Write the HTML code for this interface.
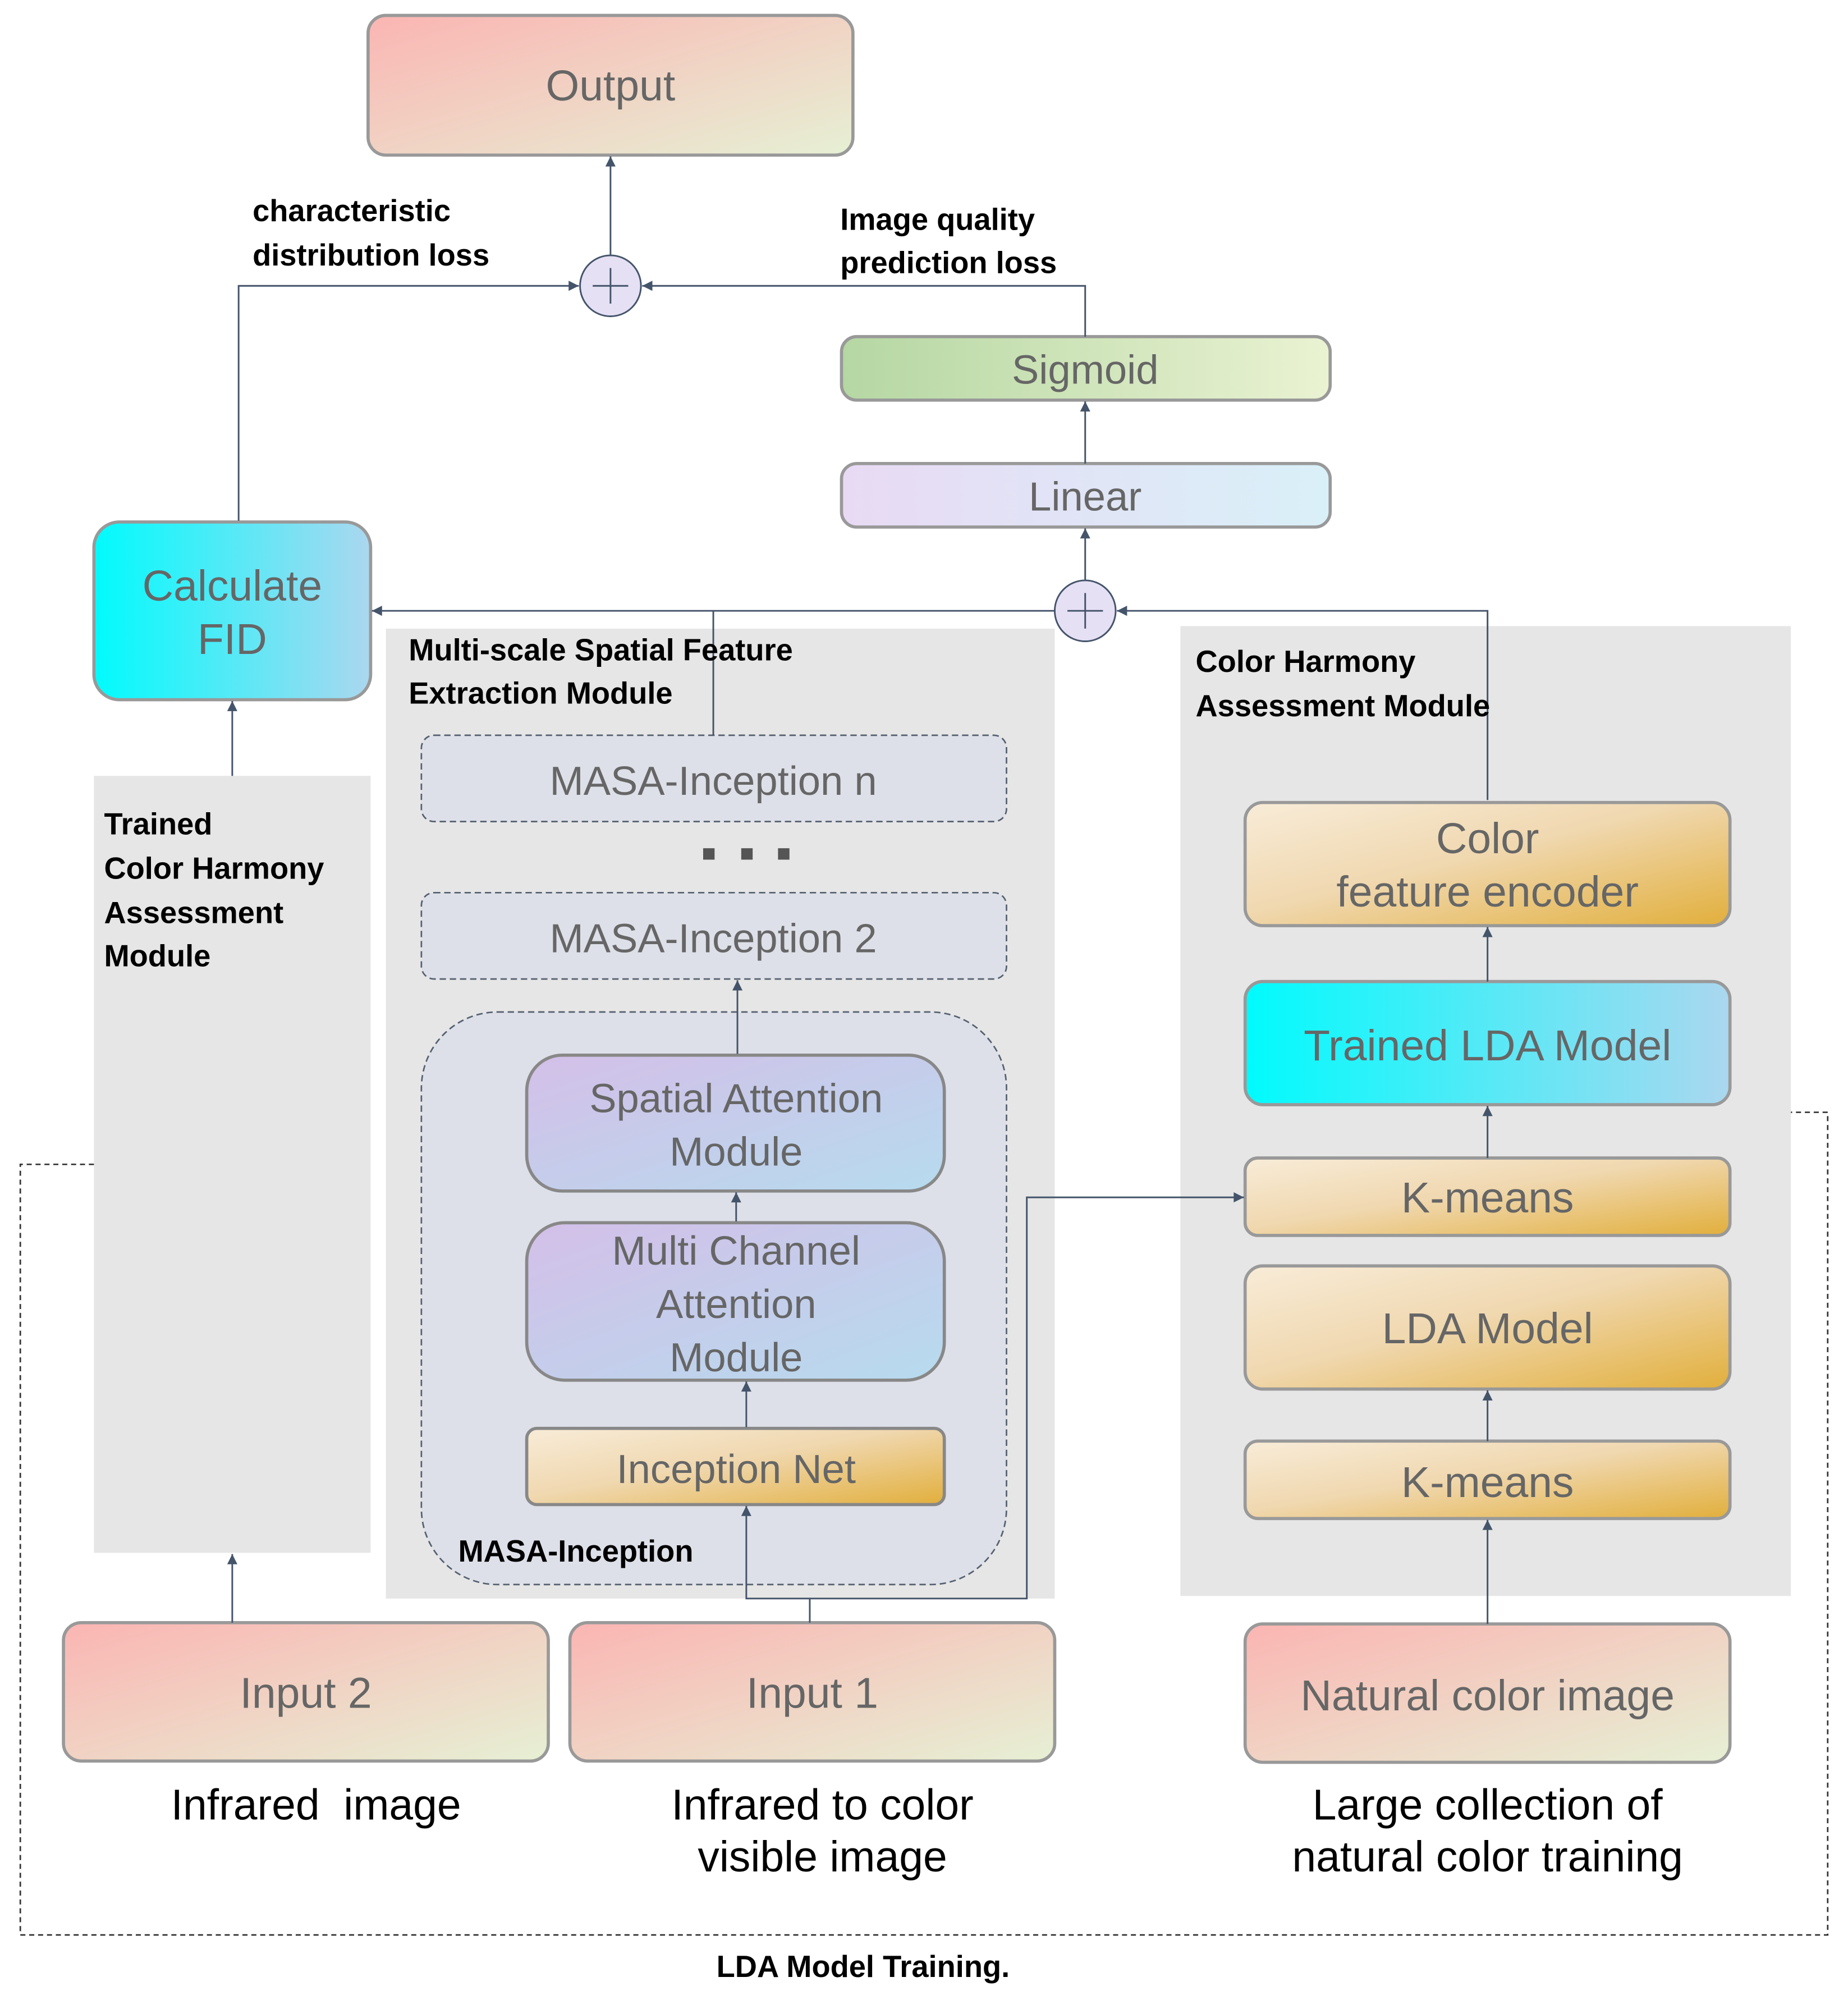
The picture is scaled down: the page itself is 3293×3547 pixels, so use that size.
<!DOCTYPE html>
<html><head><meta charset="utf-8"><style>html,body{margin:0;padding:0;background:#fff}svg{display:block}</style></head>
<body>
<svg xmlns="http://www.w3.org/2000/svg" width="3293" height="3547" viewBox="0 0 1456 1568" font-family="Liberation Sans, sans-serif">
<defs>
<linearGradient id="pk" x1="0" y1="0" x2="1" y2="1"><stop offset="0" stop-color="#fbb5b3"/><stop offset="1" stop-color="#e6f0d4"/></linearGradient>
<linearGradient id="gr" x1="0" y1="0" x2="1" y2="0"><stop offset="0" stop-color="#b5d7a3"/><stop offset="1" stop-color="#eaf2d2"/></linearGradient>
<linearGradient id="lv" x1="0" y1="0" x2="1" y2="0"><stop offset="0" stop-color="#e8daf4"/><stop offset="1" stop-color="#d9f0f8"/></linearGradient>
<linearGradient id="cy" x1="0" y1="0" x2="1" y2="0"><stop offset="0" stop-color="#00fbfd"/><stop offset="1" stop-color="#abd7ef"/></linearGradient>
<linearGradient id="pu" x1="0" y1="0" x2="1" y2="1"><stop offset="0" stop-color="#d4bfe8"/><stop offset="1" stop-color="#b6dbee"/></linearGradient>
<linearGradient id="or" x1="0" y1="0" x2="1" y2="1"><stop offset="0" stop-color="#f8ecd8"/><stop offset="0.45" stop-color="#f0d8b0"/><stop offset="1" stop-color="#e2af3c"/></linearGradient>
<marker id="a" markerWidth="10" markerHeight="10" refX="9" refY="5" orient="auto" markerUnits="userSpaceOnUse"><path d="M1,1 L9,5 L1,9 z" fill="#44546a"/></marker>
</defs>
<g fill="#e6e6e6">
<rect x="74" y="611" width="218" height="612"/>
<rect x="304" y="495" width="527" height="764"/>
<rect x="930" y="493" width="481" height="764"/>
</g>
<path d="M74,917 H16 V1524 H1440 V876 H1411" fill="none" stroke="#333" stroke-width="1.2" stroke-dasharray="4,3"/>
<g stroke="#999" stroke-width="2.5">
<rect x="290" y="12" width="382" height="110" rx="14" fill="url(#pk)"/>
<rect x="663" y="265" width="385" height="50" rx="12" fill="url(#gr)"/>
<rect x="663" y="365" width="385" height="50" rx="12" fill="url(#lv)"/>
<rect x="74" y="411" width="218" height="140" rx="20" fill="url(#cy)"/>
<rect x="50" y="1278" width="382" height="109" rx="14" fill="url(#pk)"/>
<rect x="449" y="1278" width="382" height="109" rx="14" fill="url(#pk)"/>
<rect x="981" y="1279" width="382" height="109" rx="14" fill="url(#pk)"/>
<rect x="981" y="632" width="382" height="97" rx="14" fill="url(#or)"/>
<rect x="981" y="773" width="382" height="97" rx="14" fill="url(#cy)"/>
<rect x="981" y="912" width="382" height="61" rx="10" fill="url(#or)"/>
<rect x="981" y="997" width="382" height="97" rx="14" fill="url(#or)"/>
<rect x="981" y="1135" width="382" height="61" rx="10" fill="url(#or)"/>
</g>
<g stroke="#556070" stroke-width="1.2" stroke-dasharray="5,3" fill="#dde0e8">
<rect x="332" y="579" width="461" height="68" rx="10"/>
<rect x="332" y="703" width="461" height="68" rx="10"/>
<rect x="332" y="797" width="461" height="451" rx="60"/>
</g>
<g stroke="#888" stroke-width="2.5">
<rect x="415" y="831" width="329" height="107" rx="28" fill="url(#pu)"/>
<rect x="415" y="963" width="329" height="124" rx="30" fill="url(#pu)"/>
<rect x="415" y="1125" width="329" height="60" rx="8" fill="url(#or)"/>
</g>
<g stroke="#44546a" stroke-width="1.3" fill="none" marker-end="url(#a)">
<path d="M481,201 V123"/>
<path d="M188,410 V225 H456"/>
<path d="M855,265 V225 H506"/>
<path d="M855,365 V316"/>
<path d="M855,457 V416"/>
<path d="M831,481 H293"/>
<path d="M1172,630 V481 H880"/>
<path d="M183,611 V552"/>
<path d="M581,830 V772"/>
<path d="M580,962 V939"/>
<path d="M588,1124 V1088"/>
<path d="M638,1278 V1259 H588 V1186"/>
<path d="M638,1259 H809 V943 H980"/>
<path d="M183,1278 V1224"/>
<path d="M1172,1279 V1197"/>
<path d="M1172,773 V730"/>
<path d="M1172,912 V871"/>
<path d="M1172,1135 V1095"/>
</g>
<path d="M562,579 V481" stroke="#44546a" stroke-width="1.3"/>
<g stroke="#44546a" stroke-width="1.3" fill="#e6e0f5">
<circle cx="481" cy="225" r="24"/><circle cx="855" cy="481" r="24"/>
</g>
<g stroke="#44546a" stroke-width="1.3"><path d="M467,225 H495 M481,211 V239 M841,481 H869 M855,467 V495"/></g>
<g fill="#666" font-size="34" text-anchor="middle">
<text x="481" y="79">Output</text>
<text x="855" y="302" font-size="32">Sigmoid</text>
<text x="855" y="402" font-size="32">Linear</text>
<text x="183" y="473">Calculate</text><text x="183" y="515">FID</text>
<text x="562" y="626" font-size="32">MASA-Inception n</text>
<text x="562" y="750" font-size="32">MASA-Inception 2</text>
<text x="580" y="876" font-size="32">Spatial Attention</text><text x="580" y="918" font-size="32">Module</text>
<text x="580" y="996" font-size="32">Multi Channel</text><text x="580" y="1038" font-size="32">Attention</text><text x="580" y="1080" font-size="32">Module</text>
<text x="580" y="1168" font-size="32">Inception Net</text>
<text x="241" y="1345">Input 2</text>
<text x="640" y="1345">Input 1</text>
<text x="1172" y="1347">Natural color image</text>
<text x="1172" y="672">Color</text><text x="1172" y="714">feature encoder</text>
<text x="1172" y="835">Trained LDA Model</text>
<text x="1172" y="955">K-means</text>
<text x="1172" y="1058">LDA Model</text>
<text x="1172" y="1179">K-means</text>
</g>
<g fill="#555"><rect x="554" y="668" width="9" height="9"/><rect x="584" y="668" width="9" height="9"/><rect x="613" y="668" width="9" height="9"/></g>
<g fill="#000" font-size="34" text-anchor="middle">
<text x="249" y="1433">Infrared&#160; image</text>
<text x="648" y="1433">Infrared to color</text><text x="648" y="1474">visible image</text>
<text x="1172" y="1433">Large collection of</text><text x="1172" y="1474">natural color training</text>
</g>
<g fill="#000" font-size="24" font-weight="bold">
<text x="199" y="174">characteristic</text><text x="199" y="209">distribution loss</text>
<text x="662" y="181">Image quality</text><text x="662" y="215">prediction loss</text>
<text x="322" y="520">Multi-scale Spatial Feature</text><text x="322" y="554">Extraction Module</text>
<text x="942" y="529">Color Harmony</text><text x="942" y="564">Assessment Module</text>
<text x="82" y="657">Trained</text><text x="82" y="692">Color Harmony</text><text x="82" y="727">Assessment</text><text x="82" y="761">Module</text>
<text x="361" y="1230">MASA-Inception</text>
<text x="680" y="1557" text-anchor="middle">LDA Model Training.</text>
</g>
</svg>
</body></html>
